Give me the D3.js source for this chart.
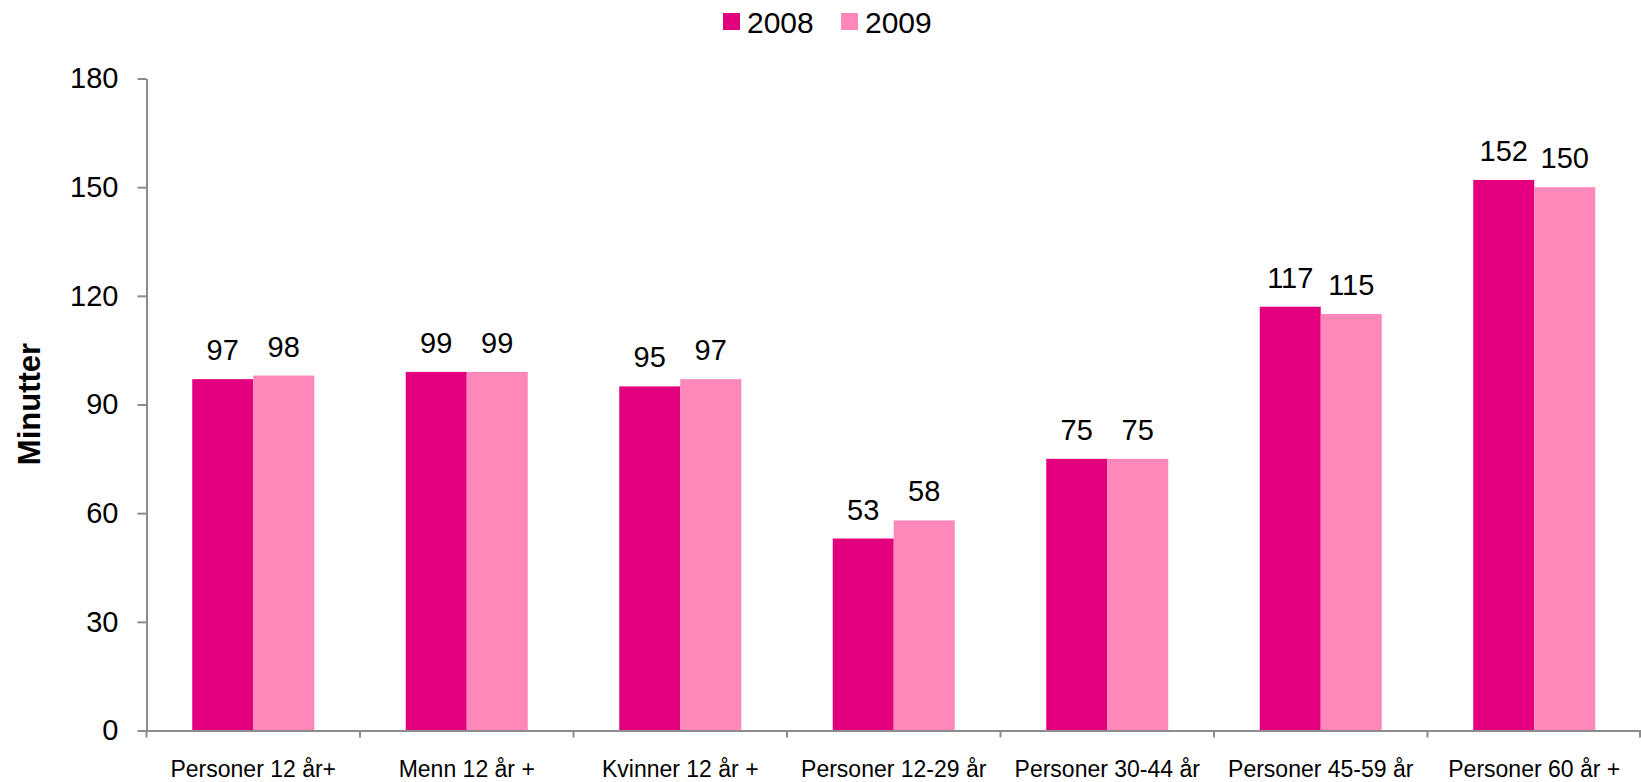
<!DOCTYPE html>
<html>
<head>
<meta charset="utf-8">
<script src="https://cdn.jsdelivr.net/npm/d3@7"></script>
<style>
  body { margin: 0; background: #fff; }
  text { font-family: "Liberation Sans", Arial, sans-serif; fill: #000; }
</style>
</head>
<body>
<div id="chart"></div>
<script>
// grouped bars: minutes per age group, 2008 vs 2009

const categories = ["Personer 12 år+", "Menn 12 år +", "Kvinner 12 år +", "Personer 12-29 år",
                    "Personer 30-44 år", "Personer 45-59 år", "Personer 60 år +"];
const seriesNames = ["2008", "2009"];
const values2008 = [97, 99, 95, 53, 75, 117, 152];
const values2009 = [98, 99, 97, 58, 75, 115, 150];
const yTicks = [0, 30, 60, 90, 120, 150, 180];
const colours = ["#e2007f", "#ff87ba"];

const width = 1641, height = 782;
const margin = {top: 78.5, right: 0, bottom: 51.5, left: 146.5};

const svg = d3.select("#chart").append("svg")
    .attr("width", width)
    .attr("height", height);

let rows = categories.map((c, i) => ({cat: c, vals: [values2008[i], values2009[i]]}));

let x0 = d3.scaleBand()
    .domain(categories)
    .range([margin.left, width - margin.right])
    .padding(0);

let x1 = d3.scaleBand()
    .domain(seriesNames)
    .range([0, x0.bandwidth()])
    .paddingInner(0)
    .paddingOuter(0.75);

let y = d3.scaleLinear()
    .domain([0, 180])
    .range([height - margin.bottom, margin.top]);

// y axis
let yAxis = svg.append("g")
    .attr("transform", "translate(" + margin.left + ",0)")
    .call(d3.axisLeft(y).tickValues(yTicks).tickSize(9).tickSizeOuter(0).tickPadding(19));
yAxis.select(".domain").attr("stroke", "#8c8c8c").attr("stroke-width", 2);
yAxis.selectAll(".tick line").attr("stroke", "#8c8c8c").attr("stroke-width", 2);
yAxis.selectAll("text").style("font-size", "29px").attr("fill", "#000")
    .style("font-family", "'Liberation Sans', Arial, sans-serif");

// bars
let groups = svg.selectAll("g.grp")
    .data(rows)
    .enter()
    .append("g")
    .attr("class", "grp")
    .attr("transform", d => "translate(" + x0(d.cat) + ",0)");

groups.selectAll("rect")
    .data(d => d.vals.map((v, j) => ({name: seriesNames[j], value: v, j: j})))
    .enter()
    .append("rect")
    .attr("x", d => x1(d.name))
    .attr("width", x1.bandwidth())
    .attr("y", d => y(d.value))
    .attr("height", d => y(0) - y(d.value))
    .attr("fill", d => colours[d.j]);

groups.selectAll("text.lbl")
    .data(d => d.vals.map((v, j) => ({name: seriesNames[j], value: v})))
    .enter()
    .append("text")
    .attr("class", "lbl")
    .attr("x", d => x1(d.name) + x1.bandwidth() / 2)
    .attr("y", d => y(d.value) - 19)
    .attr("text-anchor", "middle")
    .style("font-size", "29px")
    .text(d => d.value);

// x axis: line, boundary ticks, centred labels
let xAxis = svg.append("g")
    .attr("transform", "translate(0," + y(0) + ")")
    .call(d3.axisBottom(x0).tickSize(0).tickPadding(30));
xAxis.select(".domain").attr("stroke", "#8c8c8c").attr("stroke-width", 2);
xAxis.selectAll("text").style("font-size", "23px").attr("fill", "#000")
    .style("font-family", "'Liberation Sans', Arial, sans-serif");

let bounds = categories.map(c => x0(c)).concat([x0(categories[categories.length - 1]) + x0.bandwidth()]);
xAxis.selectAll("line.bound")
    .data(bounds)
    .enter()
    .append("line")
    .attr("class", "bound")
    .attr("x1", d => Math.min(d, width - 1))
    .attr("x2", d => Math.min(d, width - 1))
    .attr("y1", 0)
    .attr("y2", 7)
    .attr("stroke", "#8c8c8c")
    .attr("stroke-width", 2);

// axis title
svg.append("text")
    .attr("transform", "translate(40,404) rotate(-90)")
    .attr("text-anchor", "middle")
    .style("font-size", "31px")
    .style("font-weight", "bold")
    .text("Minutter");

// legend
let legendX = [723, 841];
let legend = svg.selectAll("g.leg")
    .data(seriesNames)
    .enter()
    .append("g")
    .attr("class", "leg")
    .attr("transform", (d, i) => "translate(" + legendX[i] + ",13)");
legend.append("rect")
    .attr("width", 17)
    .attr("height", 17)
    .attr("fill", (d, i) => colours[i]);
legend.append("text")
    .attr("x", 24)
    .attr("y", 20)
    .style("font-size", "30px")
    .text(d => d);
</script>
</body>
</html>
